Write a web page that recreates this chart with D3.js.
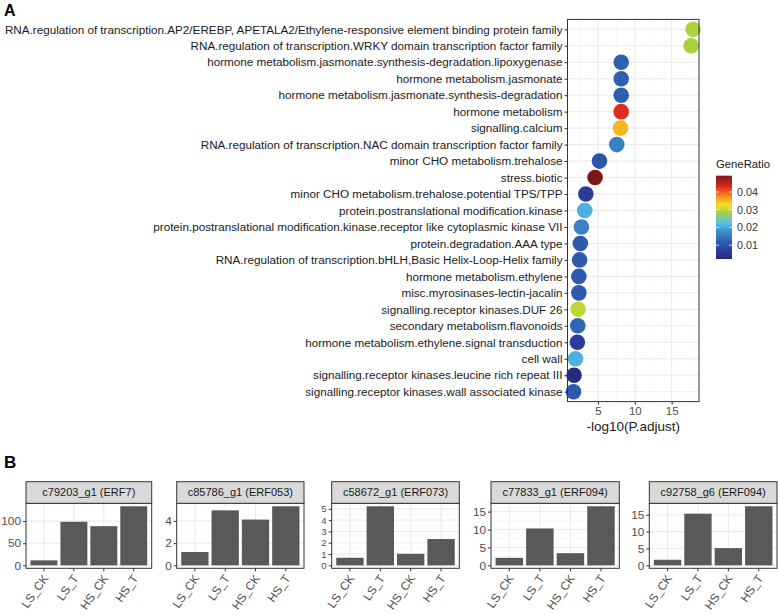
<!DOCTYPE html>
<html><head><meta charset="utf-8">
<script src="https://cdn.jsdelivr.net/npm/d3@7"></script>
<style>body{margin:0;background:#fff} text{font-family:"Liberation Sans",Arial,Helvetica,sans-serif}</style>
</head><body><svg id="c" width="778" height="615"></svg>
<script>
// ---------- Panel A data ----------
const terms = [
  "RNA.regulation of transcription.AP2/EREBP, APETALA2/Ethylene-responsive element binding protein family",
  "RNA.regulation of transcription.WRKY domain transcription factor family",
  "hormone metabolism.jasmonate.synthesis-degradation.lipoxygenase",
  "hormone metabolism.jasmonate",
  "hormone metabolism.jasmonate.synthesis-degradation",
  "hormone metabolism",
  "signalling.calcium",
  "RNA.regulation of transcription.NAC domain transcription factor family",
  "minor CHO metabolism.trehalose",
  "stress.biotic",
  "minor CHO metabolism.trehalose.potential TPS/TPP",
  "protein.postranslational modification.kinase",
  "protein.postranslational modification.kinase.receptor like cytoplasmic kinase VII",
  "protein.degradation.AAA type",
  "RNA.regulation of transcription.bHLH,Basic Helix-Loop-Helix family",
  "hormone metabolism.ethylene",
  "misc.myrosinases-lectin-jacalin",
  "signalling.receptor kinases.DUF 26",
  "secondary metabolism.flavonoids",
  "hormone metabolism.ethylene.signal transduction",
  "cell wall",
  "signalling.receptor kinases.leucine rich repeat III",
  "signalling.receptor kinases.wall associated kinase"
];
const negLogP = [17.9, 17.65, 8.15, 8.15, 8.15, 8.15, 8.05, 7.55, 5.2, 4.6, 3.35, 3.2, 2.75, 2.6, 2.5, 2.4, 2.4, 2.3, 2.25, 2.2, 1.95, 1.75, 1.67];
const geneRatio = [0.029, 0.0285, 0.012, 0.012, 0.012, 0.043, 0.035, 0.016, 0.010, 0.049, 0.006, 0.021, 0.016, 0.011, 0.011, 0.011, 0.011, 0.030, 0.013, 0.006, 0.021, 0.0025, 0.011];
const paletteColors = ["#25287a","#2a4ba3","#2e5fb0","#3f8ccc","#55c2e6","#a5cf45","#f3e020","#f49a1f","#e0261f","#7a1616"];
const paletteValues = [0.0022,0.0085,0.0119,0.0175,0.0227,0.0283,0.0328,0.0368,0.0432,0.0492];
const legendTicks = [0.01, 0.02, 0.03, 0.04];
const xTicksA = [5, 10, 15];
const xMinorA = [2.5, 7.5, 12.5, 17.5];

// ---------- Panel B data ----------
const genes = ["c79203_g1 (ERF7)", "c85786_g1 (ERF053)", "c58672_g1 (ERF073)", "c77833_g1 (ERF094)", "c92758_g6 (ERF094)"];
const samples = ["LS_CK", "LS_T", "HS_CK", "HS_T"];
const exprERF7   = [11.3, 98.4, 88.5, 133.5];
const exprERF053 = [1.2, 4.95, 4.12, 5.32];
const exprERF073 = [0.67, 5.23, 1.02, 2.33];
const exprERF094a = [2.1, 10.3, 3.4, 16.5];
const exprERF094b = [1.65, 15.3, 5.1, 17.5];
const exprAll = [exprERF7, exprERF053, exprERF073, exprERF094a, exprERF094b];
const yTicksB = [[0,50,100],[0,2,4],[0,1,2,3,4,5],[0,5,10,15],[0,5,10,15]];

const svg = d3.select("#c");
const grid = "#ebebeb", border = "#333333";

// ---------- Panel A ----------
const A = {l: 567.5, r: 699, t: 19.4, b: 401.6};
const ext = d3.extent(negLogP), pad = (ext[1]-ext[0])*0.05;
const x = d3.scaleLinear().domain([ext[0]-pad, ext[1]+pad]).range([A.l, A.r]);
const y = d3.scalePoint().domain(terms).range([A.t, A.b]).padding(0.6);
const color = d3.scaleLinear().domain(paletteValues).range(paletteColors).clamp(true);

svg.append("text").attr("x", 4).attr("y", 16).attr("font-size", 16).attr("font-weight", "bold").text("A");

const gA = svg.append("g");
gA.append("rect").attr("x", A.l).attr("y", A.t).attr("width", A.r-A.l).attr("height", A.b-A.t).attr("fill", "#fff");
gA.selectAll(".mnx").data(xMinorA.filter(v => x(v) < A.r)).join("line")
  .attr("x1", d => x(d)).attr("x2", d => x(d)).attr("y1", A.t).attr("y2", A.b)
  .attr("stroke", "#f3f3f3").attr("stroke-width", 0.6);
gA.selectAll(".mjx").data(xTicksA).join("line")
  .attr("x1", d => x(d)).attr("x2", d => x(d)).attr("y1", A.t).attr("y2", A.b)
  .attr("stroke", grid).attr("stroke-width", 1.1);
gA.selectAll(".mjy").data(terms).join("line")
  .attr("x1", A.l).attr("x2", A.r).attr("y1", d => y(d)).attr("y2", d => y(d))
  .attr("stroke", grid).attr("stroke-width", 1.1);
gA.selectAll("circle").data(terms).join("circle")
  .attr("cx", (d,i) => x(negLogP[i])).attr("cy", d => y(d)).attr("r", 7.8)
  .attr("fill", (d,i) => color(geneRatio[i]));
gA.append("rect").attr("x", A.l).attr("y", A.t).attr("width", A.r-A.l).attr("height", A.b-A.t)
  .attr("fill", "none").attr("stroke", border).attr("stroke-width", 1);

const axL = d3.axisLeft(y).tickSize(3).tickPadding(2);
const gyA = svg.append("g").attr("transform", `translate(${A.l},0)`).call(axL);
gyA.select(".domain").remove();
gyA.selectAll("line").attr("stroke", border);
gyA.selectAll("text").attr("font-size", 11.7).attr("fill", "#1a1a1a").attr("font-family", null);

const axB = d3.axisBottom(x).tickValues(xTicksA).tickSize(3).tickPadding(2);
const gxA = svg.append("g").attr("transform", `translate(0,${A.b})`).call(axB);
gxA.select(".domain").remove();
gxA.selectAll("line").attr("stroke", border);
gxA.selectAll("text").attr("font-size", 11.5).attr("fill", "#4d4d4d").attr("font-family", null);

svg.append("text").attr("x", (A.l+A.r)/2).attr("y", 431).attr("text-anchor", "middle")
  .attr("font-size", 13.5).attr("fill", "#1a1a1a").text("-log10(P.adjust)");

// legend
const L = {x: 716, w: 16, t: 175.7, b: 259};
const ly = d3.scaleLinear().domain([paletteValues[0], paletteValues[paletteValues.length-1]]).range([L.b, L.t]);
const defs = svg.append("defs");
const lg = defs.append("linearGradient").attr("id", "gr").attr("x1", 0).attr("y1", 1).attr("x2", 0).attr("y2", 0);
lg.selectAll("stop").data(paletteValues).join("stop")
  .attr("offset", d => (d - paletteValues[0])/(paletteValues[paletteValues.length-1]-paletteValues[0]))
  .attr("stop-color", (d,i) => paletteColors[i]);
svg.append("text").attr("x", 716).attr("y", 168).attr("font-size", 11.3).attr("fill", "#1a1a1a").text("GeneRatio");
svg.append("rect").attr("x", L.x).attr("y", L.t).attr("width", L.w).attr("height", L.b-L.t).attr("fill", "url(#gr)");
legendTicks.forEach(v => {
  svg.append("line").attr("x1", L.x).attr("x2", L.x+3).attr("y1", ly(v)).attr("y2", ly(v)).attr("stroke", "#fff").attr("stroke-width", 0.8);
  svg.append("line").attr("x1", L.x+L.w-3).attr("x2", L.x+L.w).attr("y1", ly(v)).attr("y2", ly(v)).attr("stroke", "#fff").attr("stroke-width", 0.8);
  svg.append("text").attr("x", L.x+L.w+5).attr("y", ly(v)).attr("dy", "0.35em").attr("font-size", 10.8).attr("fill", "#333").text(d3.format(".2f")(v));
});

// ---------- Panel B ----------
svg.append("text").attr("x", 4).attr("y", 468).attr("font-size", 17).attr("font-weight", "bold").text("B");
const facetL = [26, 176.7, 331.7, 491, 649.3];
const facetR = [151.7, 304, 459.3, 619.3, 777];
const S = {t: 481.7, b: 503.3}, P = {t: 503.3, b: 568.3};

genes.forEach((g, k) => {
  const vals = exprAll[k];
  const mx = d3.max(vals);
  const xb = d3.scaleBand().domain(samples).range([facetL[k], facetR[k]]).paddingInner(0.1).paddingOuter(0.15);
  const yb = d3.scaleLinear().domain([-0.05*mx, mx*1.05]).range([P.b, P.t]);
  const gF = svg.append("g");
  const ticks = yTicksB[k];
  const step = ticks[1]-ticks[0];
  const minor = d3.range(ticks[0]+step/2, mx*1.05, step);
  gF.append("rect").attr("x", facetL[k]).attr("y", P.t).attr("width", facetR[k]-facetL[k]).attr("height", P.b-P.t).attr("fill", "#fff");
  gF.selectAll(".mn").data(minor).join("line")
    .attr("x1", facetL[k]).attr("x2", facetR[k]).attr("y1", d => yb(d)).attr("y2", d => yb(d))
    .attr("stroke", "#f3f3f3").attr("stroke-width", 0.6);
  gF.selectAll(".mj").data(ticks).join("line")
    .attr("x1", facetL[k]).attr("x2", facetR[k]).attr("y1", d => yb(d)).attr("y2", d => yb(d))
    .attr("stroke", grid).attr("stroke-width", 1.1);
  gF.selectAll(".mv").data(samples).join("line")
    .attr("x1", d => xb(d)+xb.bandwidth()/2).attr("x2", d => xb(d)+xb.bandwidth()/2).attr("y1", P.t).attr("y2", P.b)
    .attr("stroke", grid).attr("stroke-width", 1.1);
  gF.selectAll(".bar").data(samples).join("rect")
    .attr("x", d => xb(d)).attr("width", xb.bandwidth())
    .attr("y", (d,i) => yb(vals[i])).attr("height", (d,i) => yb(0)-yb(vals[i]))
    .attr("fill", "#595959");
  gF.append("rect").attr("x", facetL[k]).attr("y", P.t).attr("width", facetR[k]-facetL[k]).attr("height", P.b-P.t)
    .attr("fill", "none").attr("stroke", border).attr("stroke-width", 1);
  // strip
  gF.append("rect").attr("x", facetL[k]).attr("y", S.t).attr("width", facetR[k]-facetL[k]).attr("height", S.b-S.t)
    .attr("fill", "#d9d9d9").attr("stroke", border).attr("stroke-width", 1);
  gF.append("text").attr("x", (facetL[k]+facetR[k])/2).attr("y", (S.t+S.b)/2).attr("dy", "0.36em")
    .attr("text-anchor", "middle").attr("font-size", 11).attr("fill", "#1a1a1a").text(g);
  // axes
  const gy = svg.append("g").attr("transform", `translate(${facetL[k]},0)`)
    .call(d3.axisLeft(yb).tickValues(ticks).tickSize(3).tickPadding(2).tickFormat(d3.format("d")));
  gy.select(".domain").remove();
  gy.selectAll("line").attr("stroke", border);
  const dense = (yb(ticks[0]) - yb(ticks[1])) < 14;
  gy.selectAll("text").attr("font-size", dense ? 9.6 : 11.8).attr("fill", "#4d4d4d").attr("font-family", null);
  const gx = svg.append("g").attr("transform", `translate(0,${P.b})`)
    .call(d3.axisBottom(xb).tickSize(3).tickPadding(2));
  gx.select(".domain").remove();
  gx.selectAll("line").attr("stroke", border);
  gx.selectAll("text").attr("font-size", 11.8).attr("fill", "#4d4d4d").attr("font-family", null)
    .attr("text-anchor", "end").attr("dy", null).attr("y", 0)
    .attr("transform", "translate(5,10) rotate(-55)");
});
</script></body></html>
